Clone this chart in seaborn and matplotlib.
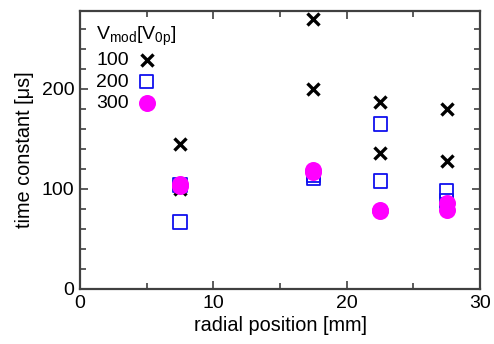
import matplotlib
matplotlib.use('Agg')

import matplotlib.pyplot as plt
import numpy as np
import pandas as pd
import seaborn as sns

# data
radial = [7.5, 7.5, 17.5, 17.5, 22.5, 22.5, 27.5, 27.5]
tau_100 = [145, 100, 270, 200, 187, 136, 180, 128]
tau_200 = [67, 104, 111, 114, 165, 108, 98, 88]
tau_300 = [105, 103, 119, 117, 78, 79, 86, 79]
vmod_labels = ['100', '200', '300']

sns.set_style('ticks')
plt.rcParams['font.family'] = ['Liberation Sans', 'DejaVu Sans']
plt.rcParams['mathtext.fontset'] = 'custom'
plt.rcParams['mathtext.rm'] = 'Liberation Sans'
plt.rcParams['mathtext.it'] = 'Liberation Sans'
plt.rcParams['text.color'] = 'black'
plt.rcParams['axes.labelcolor'] = 'black'
plt.rcParams['xtick.labelcolor'] = 'black'
plt.rcParams['ytick.labelcolor'] = 'black'

df = pd.DataFrame({'r': radial * 3,
                   'tau': tau_100 + tau_200 + tau_300,
                   'V': np.repeat(vmod_labels, len(radial))})

fig = plt.figure(figsize=(4.94, 3.44), dpi=100)
ax = fig.add_axes([0.162, 0.160, 0.810, 0.808])

styles = {
    '100': dict(marker='x', color='black', s=75, linewidth=2.4),
    '200': dict(marker='s', facecolor='none', edgecolor='#1010ee', s=90, linewidth=1.3),
    '300': dict(marker='o', color='#ff00ff', s=150, linewidth=0),
}
for v in vmod_labels:
    sub = df[df['V'] == v]
    sns.scatterplot(x='r', y='tau', data=sub, ax=ax, label=v, **styles[v])

ax.set_xlim(0, 30)
ax.set_ylim(0, 278)
ax.set_xticks([0, 10, 20, 30])
ax.set_yticks([0, 100, 200])
ax.set_xticks(np.arange(0, 31, 5), minor=True)
ax.set_yticks(np.arange(0, 279, 20), minor=True)
ax.tick_params(which='both', direction='in', top=True, right=True,
               color='#404040', width=1.2, labelsize=14, pad=4)
ax.tick_params(which='major', length=6)
ax.tick_params(which='minor', length=4)
for sp in ax.spines.values():
    sp.set_color('#404040')
    sp.set_linewidth(1.6)

ax.set_xlabel('radial position [mm]', fontsize=14.3, labelpad=3)
ax.set_ylabel('time constant [\u03bcs]', fontsize=14.3, labelpad=6)

leg = ax.legend(title=r'V$_{\rm mod}$[V$_{\rm 0p}$]', loc='upper left',
                bbox_to_anchor=(0.007, 1.0),
                frameon=False, markerfirst=False, fontsize=14,
                title_fontsize=14, handletextpad=0.35, labelspacing=0.2,
                borderaxespad=0.3, handlelength=1.1, borderpad=0.4)
leg._legend_box.align = 'left'

fig.savefig('out.png', dpi=100)
